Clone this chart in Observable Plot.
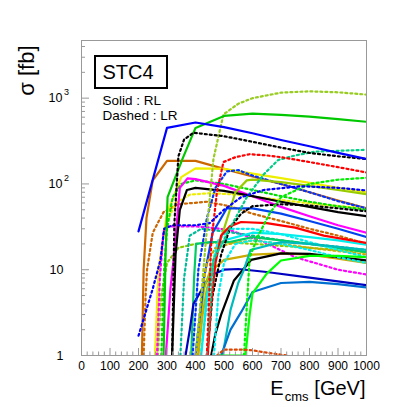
<!DOCTYPE html>
<html><head><meta charset="utf-8">
<script src="https://cdn.jsdelivr.net/npm/d3@7"></script>
<script src="https://cdn.jsdelivr.net/npm/@observablehq/plot@0.6"></script>
<style>body{margin:0;background:#fff}</style>
</head><body><div id="chart"></div>
<script>
// ---- tick values ----
const xMajor = [0,100,200,300,400,500,600,700,800,900,1000];
const xMinor = d3.range(0, 1001, 20).filter(v => v % 100 !== 0);
const yMajor = [1, 10, 100, 1000];
const yMinor = [2,3,4,5,6,7,8,9,20,30,40,50,60,70,80,90,200,300,400,500,600,700,800,900,2000,3000,4000];
const yPlainLabels = [1, 10];
const yPowLabels = [[100, "2"], [1000, "3"]];

// ---- RL (solid) series: [E_cms (GeV), sigma (fb)] ----
const rlBlue      = [[200,28],[300,450],[400,520],[500,460],[600,390],[700,325],[800,275],[900,230],[1000,195]];
const rlGreen     = [[288,1],[295,15],[302,70],[354,195],[400,450],[500,620],[600,660],[700,640],[800,610],[900,570],[1000,530]];
const rlOrange    = [[212,1],[218,10],[228,40],[250,110],[300,186],[400,186],[500,150],[600,122],[700,100],[800,80],[900,64],[1000,52]];
const rlYellow    = [[258,1],[270,10],[300,45],[350,120],[400,152],[500,150],[600,132],[700,117],[800,103],[900,90],[1000,80]];
const rlMagenta   = [[296,1],[312,6],[325,15],[345,90],[372,116],[400,114],[500,95],[600,72],[700,54],[800,42],[900,33],[1000,27]];
const rlBlack     = [[318,1],[330,15],[345,50],[370,85],[400,90],[500,83],[600,72],[700,62],[800,54],[900,47],[1000,42]];
const rlLime      = [[402,1],[430,6],[470,15],[500,30],[540,80],[580,110],[600,112],[700,105],[800,95],[900,85],[1000,76]];
const rlRed       = [[443,1],[455,4],[470,12],[490,25],[520,32],[560,36],[650,35],[750,31],[850,25],[1000,20.5]];
const rlBlue2     = [[400,1],[430,8],[460,27],[510,52],[600,52],[700,45],[800,37],[900,30],[1000,24]];
const rlDarkBlue  = [[365,1],[380,2],[393,4],[450,8.5],[500,10],[550,10.2],[650,9.4],[800,8.1],[1000,6.6]];
const rlAzure     = [[490,1],[523,2],[560,3.2],[600,5.5],[700,7],[800,7.2],[900,6.8],[1000,6.2]];
const rlBlack2    = [[455,1],[470,1.8],[490,3],[535,7.5],[595,13],[700,15.5],[800,15.3],[900,14],[1000,12.8]];
const rlGold      = [[410,1],[425,3],[440,6],[460,10],[500,13],[600,15],[700,15.5],[800,15],[900,13.5],[1000,12]];
const rlTeal      = [[495,1],[523,3.4],[550,7],[570,10],[593,17],[700,21],[800,20],[900,18.5],[1000,17]];
const rlCyan      = [[420,1],[440,5],[470,15],[500,22],[600,27],[700,26],[800,24],[900,22],[1000,19.5]];
const rlBrightGrn = [[480,1],[575,1],[590,3],[600,5.3],[650,9],[700,12.8],[800,14.5],[900,14.5],[1000,14]];
const rlSpring    = [[385,1],[395,8],[402,20],[450,21],[520,21],[600,24],[700,22],[800,20],[900,18],[1000,16]];

// ---- LR (dashed/dotted) series ----
const lrLimeTop   = [[400,1],[420,5],[440,30],[463,196],[498,646],[550,860],[600,1000],[700,1160],[800,1200],[900,1170],[1000,1100]];
const lrBlack     = [[318,1],[326,35],[340,210],[360,330],[393,395],[500,360],[600,310],[700,265],[800,230],[900,210],[1000,195]];
const lrRed       = [[440,1],[455,20],[475,80],[498,180],[540,205],[590,222],[650,215],[700,205],[800,180],[900,157],[1000,136]];
const lrSpring    = [[440,1],[463,13],[520,30],[580,70],[640,130],[690,190],[750,215],[820,238],[1000,250]];
const lrGreenA    = [[570,1],[590,14],[620,25],[660,45],[700,70],[800,100],[900,112],[1000,118]];
const lrBlue      = [[200,1.7],[250,6],[277,13],[290,30],[320,33],[400,33],[450,35],[500,50],[560,70],[640,85],[770,94],[900,90],[1000,84]];
const lrBlue2     = [[390,1],[410,10],[440,40],[470,90],[510,140],[550,145],[600,125],[700,100],[800,80],[900,63],[1000,52]];
const lrOrange    = [[218,1],[225,5],[230,10],[250,27],[288,47],[340,58],[440,62],[520,55],[600,45],[700,37],[800,30],[900,25],[1000,20]];
const lrMagenta   = [[265,1],[275,8],[288,28],[300,32],[400,32],[450,31],[520,29],[640,21],[750,14],[900,10],[1000,8.8]];
const lrCyan1     = [[418,1],[440,4],[460,12],[480,22],[520,30],[600,30],[700,26],[800,21],[900,17],[1000,14]];
const lrCyan2     = [[465,1],[480,5],[500,12],[540,20],[600,22],[700,20],[800,17],[900,14],[1000,12]];
const lrGold      = [[405,1],[420,5],[440,12],[470,18],[520,20],[600,22],[700,20],[800,18],[900,16.5],[1000,15]];
const lrGreen     = [[280,1],[290,10],[300,30],[320,70],[350,100],[400,110],[500,100],[600,85],[700,72],[800,62],[900,55],[1000,50]];
const lrLime2     = [[268,1],[280,5],[300,12],[340,18],[400,20],[500,21],[600,20],[700,19],[800,18],[900,17],[1000,16]];
const lrBlack2    = [[440,1],[460,5],[490,15],[520,30],[560,45],[600,55],[700,58],[800,56],[900,52],[1000,48]];
const lrYellow    = [[262,1],[272,8],[290,30],[330,60],[380,75],[450,78],[550,75],[650,68],[750,62],[850,57],[1000,52]];
const lrOrangeLow = [[475,1],[500,1.17],[560,1.17],[600,1.15],[650,1.08],[720,1]];
const lrTeal      = [[347,1],[360,8],[380,25],[420,30],[500,28],[600,25],[700,22],[800,20],[900,18.5],[1000,17]];

const series = [
  [rlOrange, "#cc6600", 0], [lrOrange, "#cc6600", 1], [rlYellow, "#eeee00", 0], [lrYellow, "#eeee00", 1],
  [lrLime2, "#88cc00", 1], [lrGreen, "#00dd00", 1], [rlMagenta, "#ff00ff", 0], [lrMagenta, "#ff00ff", 1],
  [rlBlack, "#000000", 0], [lrTeal, "#00bb99", 1], [rlSpring, "#00cc66", 0], [rlDarkBlue, "#0000c0", 0],
  [lrBlue2, "#0033ff", 1], [rlLime, "#99cc00", 0], [rlBlue2, "#0044ee", 0], [rlGold, "#ccaa00", 0],
  [lrGold, "#ccaa00", 1], [lrCyan1, "#00eeee", 1], [rlCyan, "#00eeee", 0], [lrBlack2, "#000000", 1],
  [rlBlack2, "#000000", 0], [rlRed, "#ff0000", 0], [lrCyan2, "#00eeee", 1], [rlTeal, "#00bbbb", 0],
  [rlAzure, "#0070d0", 0], [lrSpring, "#00cc88", 1], [lrGreenA, "#00ee00", 1], [rlBrightGrn, "#00ff00", 0],
  [lrOrangeLow, "#dd4400", 1], [lrRed, "#ff0000", 1], [lrBlue, "#0000ff", 1],
  [lrLimeTop, "#99cc22", 1], [rlGreen, "#00c800", 0], [lrBlack, "#000000", 1], [rlBlue, "#0000ff", 0]
];

const font = "'Liberation Sans', Arial, Helvetica, sans-serif";
const axisGray = "#999";
const pxPerGeV = 285 / 1000;

const lineMarks = series.map(([data, color, dashed]) =>
  Plot.line(data, {
    x: d => d[0], y: d => d[1], stroke: color,
    strokeWidth: 2.2,
    strokeDasharray: dashed ? "2,3" : null, clip: true
  })
);

const T = {fill: "black", lineAnchor: "middle"};

const chart = Plot.plot({
  width: 407, height: 407,
  marginLeft: 81, marginRight: 41, marginTop: 40, marginBottom: 52,
  style: {fontFamily: font, background: "white", overflow: "visible"},
  x: {domain: [0, 1000], axis: null},
  y: {type: "log", domain: [1, 4700], axis: null},
  marks: [
    ...lineMarks,
    Plot.frame({stroke: axisGray, strokeWidth: 1}),
    // x ticks (inside, upward)
    Plot.ruleX(xMajor, {x: d => d, y1: 1, y2: 10 ** (7 / 85.5), stroke: axisGray}),
    Plot.ruleX(xMinor, {x: d => d, y1: 1, y2: 10 ** (3.5 / 85.5), stroke: axisGray}),
    // y ticks (inside, rightward)
    Plot.ruleY(yMajor, {y: d => d, x1: 0, x2: 8 / pxPerGeV, stroke: axisGray}),
    Plot.ruleY(yMinor, {y: d => d, x1: 0, x2: 4 / pxPerGeV, stroke: axisGray}),
    // x tick labels
    Plot.text(xMajor, {...T, x: d => d, y: 1, dy: 11, text: d => String(d), fontSize: 12}),
    // y tick labels
    Plot.text(yPlainLabels, {...T, x: 0, y: d => d, dx: -18, text: d => String(d), textAnchor: "end", fontSize: 12.5}),
    Plot.text(yPowLabels, {...T, x: 0, y: d => d[0], dx: -19, text: () => "10", textAnchor: "end", fontSize: 12.5}),
    Plot.text(yPowLabels, {...T, x: 0, y: d => d[0], dx: -17.5, dy: -6, text: d => d[1], textAnchor: "start", fontSize: 9}),
    // axis titles
    Plot.text(["σ [fb]"], {...T, frameAnchor: "top-left", dx: -55, dy: 5, rotate: -90, textAnchor: "end", fontSize: 22}),
    Plot.text(["[GeV]"], {...T, frameAnchor: "bottom-right", dx: -1, dy: 33, textAnchor: "end", fontSize: 20}),
    Plot.text(["cms"], {...T, frameAnchor: "bottom-right", dx: -58, dy: 41, textAnchor: "end", fontSize: 13}),
    Plot.text(["E"], {...T, frameAnchor: "bottom-right", dx: -83, dy: 33, textAnchor: "end", fontSize: 20}),
    // legend text
    Plot.text(["STC4"], {...T, frameAnchor: "top-left", dx: 21, dy: 32, textAnchor: "start", fontSize: 20}),
    Plot.text(["Solid : RL"], {...T, frameAnchor: "top-left", dx: 21, dy: 60, textAnchor: "start", fontSize: 13.5}),
    Plot.text(["Dashed : LR"], {...T, frameAnchor: "top-left", dx: 21, dy: 75, textAnchor: "start", fontSize: 13.5})
  ]
});

// legend box around "STC4"
d3.select(chart).append("rect")
  .attr("x", 95).attr("y", 56).attr("width", 72).attr("height", 32)
  .attr("fill", "none").attr("stroke", "black").attr("stroke-width", 2);

document.getElementById("chart").appendChild(chart);
</script>
</body></html>
